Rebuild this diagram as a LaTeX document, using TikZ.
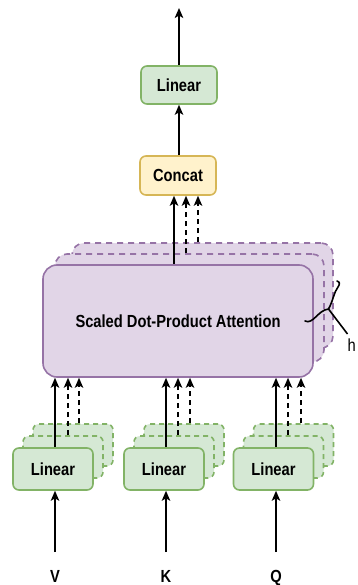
\documentclass[tikz,border=0pt]{standalone}
\usepackage{fontspec}
\setmainfont[FakeStretch=0.84]{Liberation Sans}
\usetikzlibrary{arrows.meta,calc}
\definecolor{grfill}{HTML}{D5E8D4}
\definecolor{grline}{HTML}{82B366}
\definecolor{ylfill}{HTML}{FFF2CC}
\definecolor{ylline}{HTML}{D6B656}
\definecolor{pufill}{HTML}{E1D5E7}
\definecolor{puline}{HTML}{9673A6}
\tikzset{
  box/.style={draw, line width=1.6pt, rounded corners=6pt, inner sep=0pt,
    font=\fontsize{17.5}{20}\selectfont\bfseries},
  greenbox/.style={box, fill=grfill, draw=grline},
  greenback/.style={greenbox, dashed, dash pattern=on 5pt off 4pt},
  yellowbox/.style={box, fill=ylfill, draw=ylline},
  attbox/.style={box, fill=pufill, draw=puline, rounded corners=14pt},
  attback/.style={attbox, dashed, dash pattern=on 6pt off 5pt, rounded corners=12pt},
  arr/.style={line width=1.7pt, -{Stealth[length=10pt,width=8.5pt,inset=2.5pt]}},
  darr/.style={arr, dash pattern=on 5pt off 4pt},
  lbl/.style={font=\fontsize{17.5}{20}\selectfont\bfseries, inner sep=0pt, anchor=base},
}
\begin{document}
\begin{tikzpicture}[x=1pt,y=-1pt]
\useasboundingbox (0,0) rectangle (357,585);

% multi-head attention block (three stacked heads)
\node[attback, minimum width=261pt, minimum height=105pt] (att3) at (202.5,295.5) {};
\node[attback, minimum width=269pt, minimum height=108pt] (att2) at (189.5,308) {};
\node[attbox, minimum width=270pt, minimum height=112pt] (att) at (178,321) {Scaled Dot-Product Attention};

% input projections for V, K and Q
\foreach \n/\cx in {lv/53, lk/164, lq/273.5}{
  \node[greenback, minimum width=80pt, minimum height=42pt] (\n3) at (\cx+20,445) {};
  \node[greenback, minimum width=80pt, minimum height=42pt] (\n2) at (\cx+10,457) {};
  \node[greenbox, minimum width=80pt, minimum height=42pt] (\n) at (\cx,469) {Linear};
}

% output stages
\node[yellowbox, minimum width=76pt, minimum height=39pt] (concat) at (178,175.5) {Concat};
\node[greenbox, minimum width=76pt, minimum height=38pt] (ltop) at (179,85) {Linear};

% inputs
\coordinate (inv) at (55,552);
\coordinate (ink) at (166,552);
\coordinate (inq) at (276,552);
\node[lbl] (labv) at (55,582.5) {V};
\node[lbl] (labk) at (166,582.5) {K};
\node[lbl] (labq) at (276,582.5) {Q};
\draw[arr] (inv) -- (inv |- lv.south);
\draw[arr] (ink) -- (ink |- lk.south);
\draw[arr] (inq) -- (inq |- lq.south);

% projections into the attention heads
\foreach \n/\a/\b/\c in {lv/55/68/79, lk/166/178/190, lq/276/288/301}{
  \draw[arr]  (\n.north -| \a,0)  -- (att.south -| \a,0);
  \draw[darr] (\n2.north -| \b,0) -- (att.south -| \b,0);
  \draw[darr] (\n3.north -| \c,0) -- (att.south -| \c,0);
}

% heads into concat
\draw[arr]  (att.north -| 174,0)  -- (concat.south -| 174,0);
\draw[darr] (att2.north -| 186,0) -- (concat.south -| 186,0);
\draw[darr] (att3.north -| 198,0) -- (concat.south -| 198,0);

% concat -> linear -> output
\coordinate (out) at (179,8);
\draw[arr] (concat.north -| ltop.north) -- (ltop.south);
\draw[arr] (ltop.north) -- (out);

% brace marking the h heads
\coordinate (cusp) at (328.5,309);
\draw[line width=1.6pt, line cap=round]
  (305,321) .. controls (313,325) and (318,310) .. (cusp)
  .. controls (333,301) and (334,292) .. (338,287)
  .. controls (340,284) and (340,282) .. (337,281);
\coordinate (hend) at (347.5,334);
\draw[line width=1.6pt] (cusp) -- (hend);
\node[font=\fontsize{17.5}{20}\selectfont, inner sep=0pt, anchor=base west] (labh) at (347.5,351) {h};
\end{tikzpicture}
\end{document}
